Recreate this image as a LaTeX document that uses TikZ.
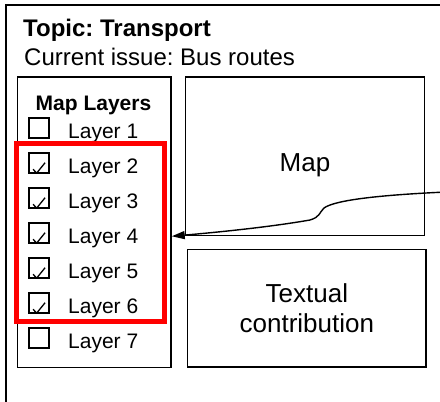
\documentclass[tikz,border=0pt]{standalone}
\usepackage{fontspec}
\setmainfont{Liberation Sans}
\usetikzlibrary{arrows.meta,calc}
\tikzset{
  frame/.style={draw=black, line width=1.8pt},
  panel/.style={draw=black, line width=1.5pt, rectangle, inner sep=0pt},
  selbox/.style={draw=red, line width=5pt, rectangle, inner sep=0pt},
  cbox/.style={draw=black, line width=1.4pt, rectangle, minimum size=20pt, inner sep=0pt},
  tick/.style={draw=black, line width=1.3pt, line join=round},
  laytext/.style={anchor=base west, inner sep=0pt, font=\fontsize{21}{25}\selectfont},
  conn/.style={draw=black, line width=1.4pt, -{Triangle[length=13pt,width=8pt]}},
}
\begin{document}
\frenchspacing
\begin{tikzpicture}[x=1pt,y=-1pt]
\useasboundingbox (0,0) rectangle (440,402);
\clip (0,0) rectangle (440,402);
\fill[white] (0,0) rectangle (440,402);
% outer frame (extends beyond the visible area)
\draw[frame] (6,5) rectangle (470,430);
% titles
\node[anchor=base west, inner sep=0pt, font=\frenchspacing\fontsize{24}{28}\selectfont\bfseries] (topic) at (23,36.7) {Topic: Transport};
\node[anchor=base west, inner sep=0pt, font=\frenchspacing\fontsize{24}{28}\selectfont] (issue) at (24,65) {Current issue: Bus routes};
% panels
\node[panel, minimum width=153.5pt, minimum height=290.5pt] (layers) at (94.25,222.25) {};
\node[panel, minimum width=239pt, minimum height=158.5pt] (mapbox) at (305,156.25) {};
\node[panel, minimum width=238.3pt, minimum height=117.5pt, align=center,
      font=\fontsize{26}{30}\selectfont] (textbox) at (306.85,308.25) {Textual\\contribution};
\node[anchor=base, inner sep=0pt, font=\fontsize{26}{30}\selectfont] (maplabel) at (305,171.7) {Map};
\node[anchor=base, inner sep=0pt, font=\fontsize{21}{25}\selectfont\bfseries] (laytitle) at (93.5,110) {Map Layers};
% layer rows
\foreach \i in {1,...,7}{
  \pgfmathsetmacro{\b}{138+35*(\i-1)}
  \node[cbox] (cb\i) at (38.8,\b-10) {};
  \node[laytext] (lay\i) at (68,\b) {Layer \i};
}
\foreach \i in {2,...,6}{
  \draw[tick] ($(cb\i.south west)+(5,-4.5)$) -- ($(cb\i.south west)+(8.5,-0.5)$) -- ($(cb\i.south west)+(17,-11)$);
}
% selection
\node[selbox, minimum width=147.5pt, minimum height=178.5pt] (sel) at (90.25,232.25) {};
% connector
\coordinate (src) at (446,192);
\draw[conn] (src) .. controls (380,195) and (335,200) .. (324,208)
  .. controls (319,213) and (320,217) .. (310,220)
  .. controls (270,227) and (220,232) .. (layers.east |- mapbox.south);
\end{tikzpicture}
\end{document}
